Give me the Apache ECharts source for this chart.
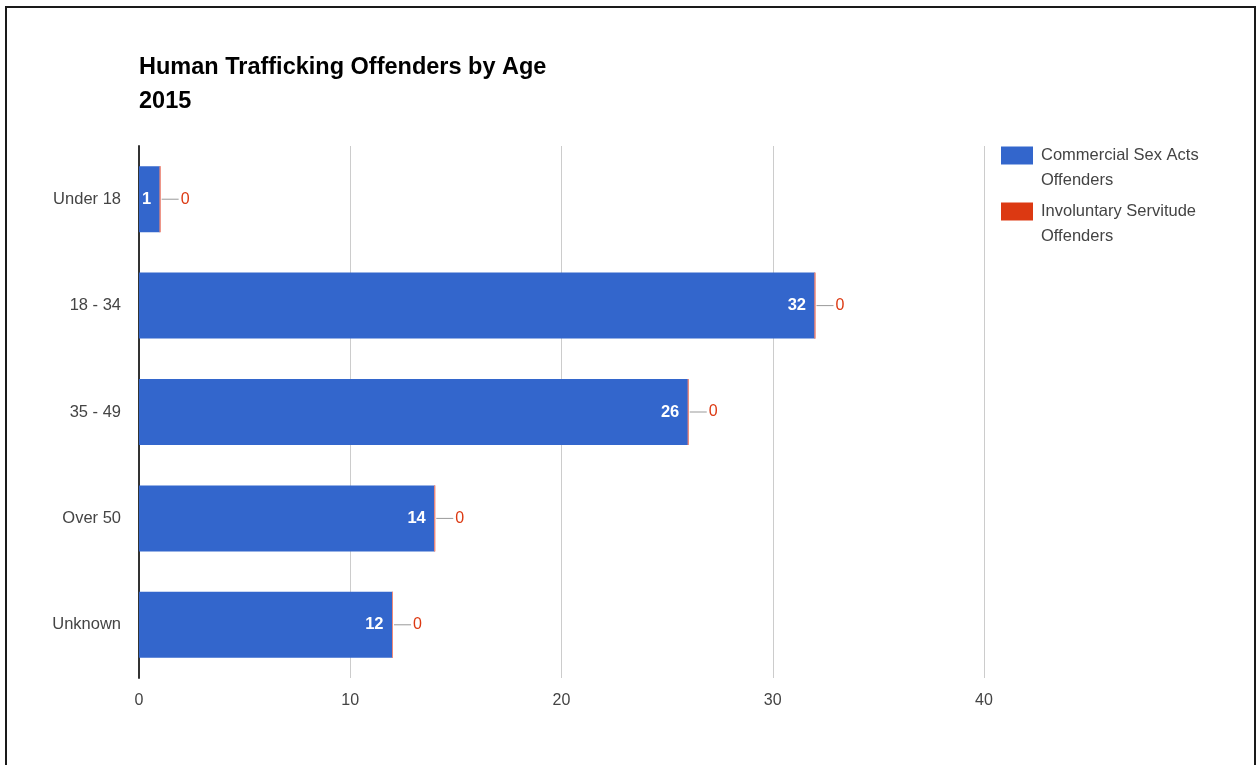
<!DOCTYPE html>
<html>
<head>
<meta charset="utf-8">
<script src="https://cdn.jsdelivr.net/npm/echarts@6/dist/echarts.min.js"></script>
<style>
html,body{margin:0;padding:0;background:#fff;}
#wrap{position:relative;width:1257px;height:765px;overflow:hidden;}
#frame{position:absolute;left:5px;top:6px;width:1251px;height:800px;border:2px solid #1a1a1a;box-sizing:border-box;}
#chart{position:absolute;left:0;top:0;width:1257px;height:765px;}
</style>
</head>
<body>
<div id="wrap"><div id="frame"></div><div id="chart"></div></div>
<script>
const categories = ['Under 18', '18 - 34', '35 - 49', 'Over 50', 'Unknown'];
const commercialSex = [1, 32, 26, 14, 12];
const involuntaryServitude = [0, 0, 0, 0, 0];
const xTicks = [0, 10, 20, 30, 40];
const seriesNames = ['Commercial Sex Acts Offenders', 'Involuntary Servitude Offenders'];

const chart = echarts.init(document.getElementById('chart'));
const font = 'Arial, "Liberation Sans", sans-serif';
chart.setOption({
  animation: false,
  backgroundColor: 'transparent',
  title: {
    text: 'Human Trafficking Offenders by Age\n2015',
    left: 134, top: 46,
    textStyle: { fontFamily: font, fontSize: 23.5, fontWeight: 'bold', color: '#000', lineHeight: 34 }
  },
  legend: {
    orient: 'vertical', left: 1001, top: 118, padding: 0,
    itemWidth: 32, itemHeight: 18, itemGap: -19,
    icon: 'rect',
    itemStyle: { borderWidth: 0 },
    data: seriesNames,
    formatter: function (n) { return '\n' + n.replace(/ Offenders$/, '\nOffenders'); },
    textStyle: { fontFamily: font, fontSize: 16.5, color: '#444', lineHeight: 25, padding: [0, 0, 0, 3] }
  },
  grid: { left: 139, right: 273, top: 146, bottom: 87, containLabel: false },
  xAxis: {
    type: 'value', min: xTicks[0], max: xTicks[xTicks.length - 1], interval: 10,
    axisLine: { show: false }, axisTick: { show: false },
    splitLine: { lineStyle: { color: '#cccccc', width: 1 } },
    axisLabel: { fontFamily: font, fontSize: 16, color: '#444', margin: 15 }
  },
  yAxis: {
    type: 'category', data: categories, inverse: true,
    axisLine: { lineStyle: { color: '#333', width: 2 } }, axisTick: { show: false },
    axisLabel: { fontFamily: font, fontSize: 16.5, color: '#444', margin: 18, padding: [4, 0, 0, 0] }
  },
  series: [
    {
      name: seriesNames[0], type: 'bar', stack: 'a', data: commercialSex,
      barWidth: '62%', itemStyle: { color: '#3366cc' },
      label: { show: true, position: 'insideRight', distance: 9, color: '#fff', fontFamily: font, fontSize: 16.5, fontWeight: 'bold' }
    },
    {
      name: seriesNames[1], type: 'bar', stack: 'a', data: involuntaryServitude,
      barWidth: '62%', itemStyle: { color: '#dc3912', borderColor: '#f08a78', borderWidth: 1 },
      label: {
        show: true, position: 'right', distance: 1,
        formatter: '{l|}{v|{c}}',
        rich: {
          l: { width: 17, height: 1, backgroundColor: '#999', verticalAlign: 'middle' },
          v: { color: '#dc3912', fontFamily: font, fontSize: 16, padding: [0, 0, 0, 2] }
        }
      }
    }
  ]
});
</script>
</body>
</html>
